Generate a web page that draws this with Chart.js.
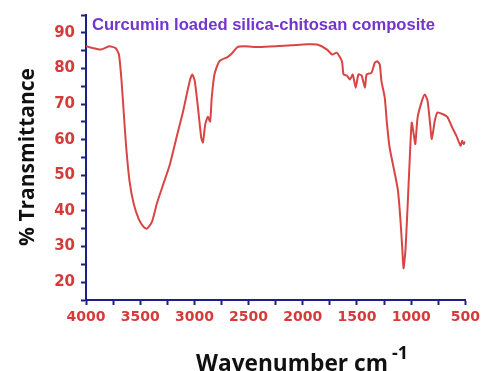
<!DOCTYPE html>
<html>
<head>
<meta charset="utf-8">
<script src="https://cdn.jsdelivr.net/npm/chart.js@4.4.1/dist/chart.umd.min.js"></script>
<style>
  html, body { margin: 0; padding: 0; background: #fff; }
  #wrap { width: 484px; height: 371px; position: relative; }
</style>
</head>
<body>
<div id="wrap"><canvas id="ftirChart"></canvas></div>
<script>
// FTIR spectrum
const wavenumbers = [
  4000, 3863, 3787, 3727, 3696, 3672, 3651, 3629, 3599, 3560, 3514, 3468, 3438, 3392, 3347, 3286,
  3225, 3165, 3104, 3043, 3019, 2997, 2967, 2937, 2921, 2900, 2876, 2855, 2840, 2815, 2770, 2694,
  2648, 2603, 2542, 2400, 2250, 2100, 1960, 1867, 1776, 1730, 1685, 1639, 1624, 1594, 1564, 1539,
  1512, 1487, 1457, 1427, 1411, 1366, 1336, 1314, 1290, 1275, 1244, 1223, 1199, 1144, 1122, 1101,
  1083, 1071, 1053, 1032, 1010, 995, 977, 962, 941, 901, 874, 849, 825, 810, 782, 758,
  712, 667, 621, 576, 545, 530, 515, 500
];
const transmittance = [
  86.2, 85.3, 86.2, 85.7, 83.9, 76.5, 67.2, 57.8, 48.5, 42, 37.8, 35.5, 35.0, 36.9, 42, 47.6,
  53.2, 60.6, 68, 76.5, 78.3, 76.5, 69, 60.6, 59.2, 64.3, 66.4, 65.1, 71.8, 78.3, 82, 83.2,
  84.4, 86, 86.2, 86.0, 86.2, 86.5, 86.8, 86.7, 85.3, 83.9, 84.4, 82, 78.3, 78, 76.9, 78.3,
  74.6, 78.3, 78, 74.6, 78.3, 78.8, 81.6, 82, 81.1, 76.5, 71.8, 64.3, 57.8, 49.4, 45.7, 38.3,
  29.9, 23.9, 29, 42, 56.9, 64.8, 61.6, 58.8, 66.2, 70.9, 72.7, 70.9, 64.3, 60.2, 65.3, 67.6,
  67.2, 66.4, 63.4, 60.6, 58.3, 59.7, 58.8, 59.5
];
const xTickLabels = [4000, 3500, 3000, 2500, 2000, 1500, 1000, 500];
const yTickLabels = [20, 30, 40, 50, 60, 70, 80, 90];

const points = wavenumbers.map((w, i) => ({ x: w, y: transmittance[i] }));

const axisBlue = '#1c1f86';
const tickRed = '#d63a3a';

// size a bold font so a text spans the wanted width
function fitFont(ctx, text, family, width) {
  ctx.font = 'bold 20px ' + family;
  const size = 20 * width / ctx.measureText(text).width;
  return 'bold ' + size.toFixed(1) + 'px ' + family;
}

// titles drawn by hand so the superscript looks right
const titlePlugin = {
  id: 'titles',
  afterDraw(chart) {
    const ctx = chart.ctx;
    const area = chart.chartArea;
    ctx.save();
    ctx.textBaseline = 'alphabetic';
    ctx.textAlign = 'left';

    const inner = 'Curcumin loaded silica-chitosan composite';
    ctx.fillStyle = '#7436c9';
    ctx.font = fitFont(ctx, inner, '"Liberation Sans", Arial, sans-serif', 344);
    ctx.fillText(inner, area.left + 6, 30);

    ctx.fillStyle = '#111';
    const xt = 'Wavenumber cm';
    ctx.font = fitFont(ctx, xt, '"Open Sans", sans-serif', 192);
    ctx.fillText(xt, 196, 371);
    const w = ctx.measureText(xt).width;
    ctx.font = 'bold 18px "Open Sans", sans-serif';
    ctx.fillText('-1', 196 + w + 4, 359);

    const yt = '% Transmittance';
    ctx.translate(28, 157);
    ctx.rotate(-Math.PI / 2);
    ctx.font = fitFont(ctx, yt, '"Open Sans", sans-serif', 178);
    ctx.textAlign = 'center';
    ctx.textBaseline = 'middle';
    ctx.fillText(yt, 0, 0);
    ctx.restore();
  }
};

function drawChart() {
  new Chart(document.getElementById('ftirChart'), {
    type: 'scatter',
    data: {
      datasets: [{
        data: points,
        showLine: true,
        borderColor: '#d94444',
        borderWidth: 2,
        pointRadius: 0,
        tension: 0.2
      }]
    },
    options: {
      responsive: true,
      maintainAspectRatio: false,
      animation: false,
      layout: { padding: { left: 0, right: 14, top: 12, bottom: 0 } },
      plugins: { legend: { display: false }, tooltip: { enabled: false } },
      scales: {
        x: {
          type: 'linear',
          reverse: true,
          min: 500,
          max: 4000,
          afterFit(scale) { scale.height = 71; },
          border: { color: axisBlue, width: 2 },
          grid: { drawOnChartArea: false, tickLength: 5, tickColor: axisBlue, tickWidth: 2 },
          ticks: {
            stepSize: 250,
            maxRotation: 0,
            autoSkip: false,
            padding: 4,
            color: tickRed,
            font: { family: '"DejaVu Sans", sans-serif', weight: 'bold', size: 14 },
            callback: v => xTickLabels.includes(v) ? String(v) : ''
          }
        },
        y: {
          min: 15,
          max: 95,
          afterFit(scale) { scale.width = 86; },
          border: { color: axisBlue, width: 2 },
          grid: { drawOnChartArea: false, tickLength: 5, tickColor: axisBlue, tickWidth: 2 },
          ticks: {
            stepSize: 5,
            autoSkip: false,
            padding: 6,
            color: tickRed,
            font: { family: '"DejaVu Sans", sans-serif', weight: 'bold', size: 15 },
            callback: v => yTickLabels.includes(v) ? String(v) : ''
          }
        }
      }
    },
    plugins: [titlePlugin]
  });
}

Promise.all([
  document.fonts.load('bold 20px "Open Sans"'),
  document.fonts.load('bold 20px "Liberation Sans"'),
  document.fonts.load('bold 15px "DejaVu Sans"')
]).then(drawChart, drawChart);
</script>
</body>
</html>
